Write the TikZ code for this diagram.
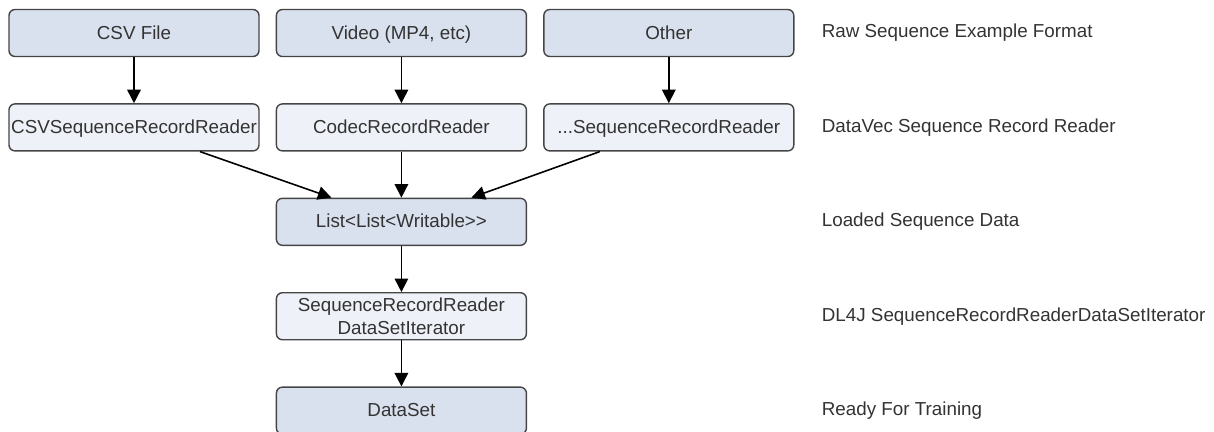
\documentclass[tikz,border=0pt]{standalone}
\usepackage{fontspec}
\setmainfont{Liberation Sans}[Ligatures=TeXOff]
\usepackage{xcolor}
\usepackage{tikz}
\usetikzlibrary{arrows.meta,positioning,calc}

\definecolor{boxblue}{HTML}{DAE1EE}
\definecolor{boxlight}{HTML}{EEF1F7}
\definecolor{boxline}{HTML}{454545}
\definecolor{txtgray}{HTML}{333333}

\begin{document}
\begin{tikzpicture}[node distance=9.2mm and 3.2mm, font=\fontsize{10.7}{13}\selectfont, text=txtgray, process/.style={draw=boxline, line width=0.8pt, rounded corners=1.2mm, fill=boxblue, align=center, minimum width=50mm, minimum height=9.4mm, inner sep=1pt, text height=0.92em, text depth=0.22em}, reader/.style={process, fill=boxlight}, note/.style={anchor=west, inner sep=0pt}, arrow/.style={-{Triangle[length=2.7mm,width=2.7mm]}, line width=0.9pt}]
\useasboundingbox (-2.68,0.66) rectangle (21.6,-7.96);
\node[process] (csv) at (0,0) {CSV File};
\node[process, right=of csv] (video) {Video (MP4, etc)};
\node[process, right=of video] (other) {Other};
\node[reader, below=of csv] (csvreader) {CSVSequenceRecordReader};
\node[reader, below=of video] (codec) {CodecRecordReader};
\node[reader, below=of other] (seqreader) {...SequenceRecordReader};
\node[process, below=of codec] (list) {List<List<Writable>>};
\node[reader, below=of list, text height=, text depth=] (iter) {SequenceRecordReader\\DataSetIterator};
\node[process, below=of iter] (dataset) {DataSet};
\node[note, right=5.4mm of other] (raw) {Raw Sequence Example Format};
\node[note] (datavec) at (raw.west |- seqreader) {DataVec Sequence Record Reader};
\node[note] (loaded) at (raw.west |- list) {Loaded Sequence Data};
\node[note] (dl4j) at (raw.west |- iter) {DL4J SequenceRecordReaderDataSetIterator};
\node[note] (ready) at (raw.west |- dataset) {Ready For Training};
\draw[arrow] (csv) -- (csvreader);
\draw[arrow] (video) -- (codec);
\draw[arrow] (other) -- (seqreader);
\draw[arrow] ($(csvreader.south)+(1.32,0)$) -- ($(list.north)+(-1.4,0)$);
\draw[arrow] (codec) -- (list);
\draw[arrow] ($(seqreader.south)+(-1.38,0)$) -- ($(list.north)+(1.4,0)$);
\draw[arrow] (list) -- (iter);
\draw[arrow] (iter) -- (dataset);
\end{tikzpicture}
\end{document}
